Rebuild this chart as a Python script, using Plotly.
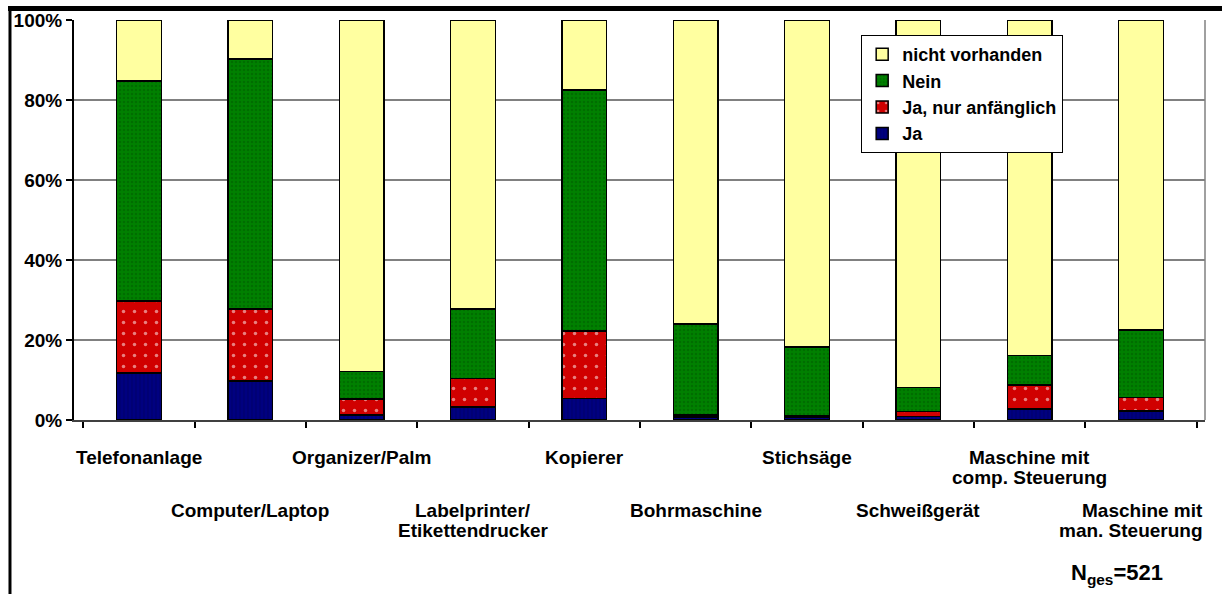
import plotly.graph_objects as go

categories = ["Telefonanlage", "Computer/Laptop", "Organizer/Palm",
              "Labelprinter/<br>Etikettendrucker", "Kopierer", "Bohrmaschine",
              "Stichsäge", "Schweißgerät", "Maschine mit<br>comp. Steuerung",
              "Maschine mit<br>man. Steuerung"]
ja = [11.7, 9.8, 1.2, 3.2, 5.4, 0.7, 0.7, 0.9, 2.7, 2.3]
ja_anf = [18.1, 17.9, 4.0, 7.2, 16.9, 0.5, 0.4, 1.2, 6.0, 3.3]
nein = [55.0, 62.5, 6.9, 17.3, 60.2, 22.8, 17.1, 6.0, 7.4, 16.9]
nicht = [15.2, 9.8, 87.9, 72.3, 17.5, 76.0, 81.8, 91.9, 83.9, 77.5]
y_ticks = [0, 20, 40, 60, 80, 100]
y_ticktext = ["0%", "20%", "40%", "60%", "80%", "100%"]

FONT = "Liberation Sans, Arial, sans-serif"
line = dict(color="black", width=1.5)

series = [
    ("Ja", ja, dict(color="#000080", line=line,
                    pattern=dict(shape="|", fgcolor="#00005a", bgcolor="#000080", size=4, solidity=0.3))),
    ("Ja, nur anfänglich", ja_anf, dict(color="#d00000", line=line,
                    pattern=dict(shape=".", fgcolor="#ffffff", bgcolor="#d00000", size=11, solidity=0.08))),
    ("Nein", nein, dict(color="#008000", line=line,
                    pattern=dict(shape=".", fgcolor="#005a00", bgcolor="#008000", size=4, solidity=0.3))),
    ("nicht vorhanden", nicht, dict(color="#ffffa0", line=line)),
]

fig = go.Figure()
for name, vals, marker in series:
    fig.add_trace(go.Bar(x=categories, y=vals, name="<b>" + name + "</b>", marker=marker))

fig.update_layout(
    barmode="stack", bargap=0.6,
    width=1222, height=594,
    margin=dict(l=74, r=17, t=20, b=174, autoexpand=False),
    paper_bgcolor="white", plot_bgcolor="white",
    font=dict(family=FONT, size=19, color="black"),
    legend=dict(x=0.696, y=0.9625, xanchor="left", yanchor="top",
                traceorder="reversed", bgcolor="white",
                bordercolor="black", borderwidth=1,
                font=dict(family=FONT, size=18, color="black"),
                itemwidth=30, tracegroupgap=0),
    showlegend=True,
)
fig.update_yaxes(range=[0, 100], tickvals=y_ticks,
                 ticktext=["<b>" + t + "</b>" for t in y_ticktext],
                 tickfont=dict(family=FONT, size=19, color="black"),
                 showgrid=True, gridcolor="#808080", gridwidth=1.5,
                 showline=True, linecolor="black", linewidth=2,
                 ticks="outside", ticklen=6, tickcolor="black", tickwidth=1.5,
                 zeroline=False, automargin=False)
fig.update_xaxes(showticklabels=False, showline=True, linecolor="#404040", linewidth=2,
                 ticks="outside", tickson="boundaries", ticklen=6, tickcolor="black",
                 tickwidth=1.5, showgrid=False, automargin=False)

# right border of plot area
fig.add_shape(type="line", xref="paper", yref="paper", x0=1, x1=1, y0=0, y1=1,
              line=dict(color="#808080", width=1.5))
# outer chart frame: left edge
fig.add_shape(type="line", xref="paper", yref="paper", x0=-0.0566, x1=-0.0566, y0=1.03, y1=-0.5,
              line=dict(color="black", width=3), layer="above")
# outer chart frame: top edge (a bordered, empty annotation box of 1 px height)
fig.add_annotation(x=-0.058, y=1.0275, xref="paper", yref="paper", text="",
                   showarrow=False, xanchor="left", yanchor="middle",
                   width=1240, height=1, borderpad=0,
                   bordercolor="black", borderwidth=2, bgcolor="black")

# staggered category labels
row_y = [-0.0925, -0.225]
line_step = 0.05
for i, cat in enumerate(categories):
    lines = cat.split("<br>")
    base = row_y[i % 2]
    last = i == len(categories) - 1
    for j, txt in enumerate(lines):
        fig.add_annotation(x=cat, xref="x", y=base - j * line_step, yref="paper",
                           text="<b>" + txt + "</b>", showarrow=False,
                           xanchor="right" if last else "center",
                           xshift=64 if last else 0,
                           yanchor="middle",
                           font=dict(family=FONT, size=19, color="black"))

fig.add_annotation(x=0.922, y=-0.385, xref="paper", yref="paper", showarrow=False,
                   text="<b>N<sub>ges</sub>=521</b>", xanchor="center", yanchor="middle",
                   font=dict(family=FONT, size=22, color="black"))

fig.write_html("out.html", config={"displayModeBar": False},
               post_script="document.body.style.margin='0px';")
